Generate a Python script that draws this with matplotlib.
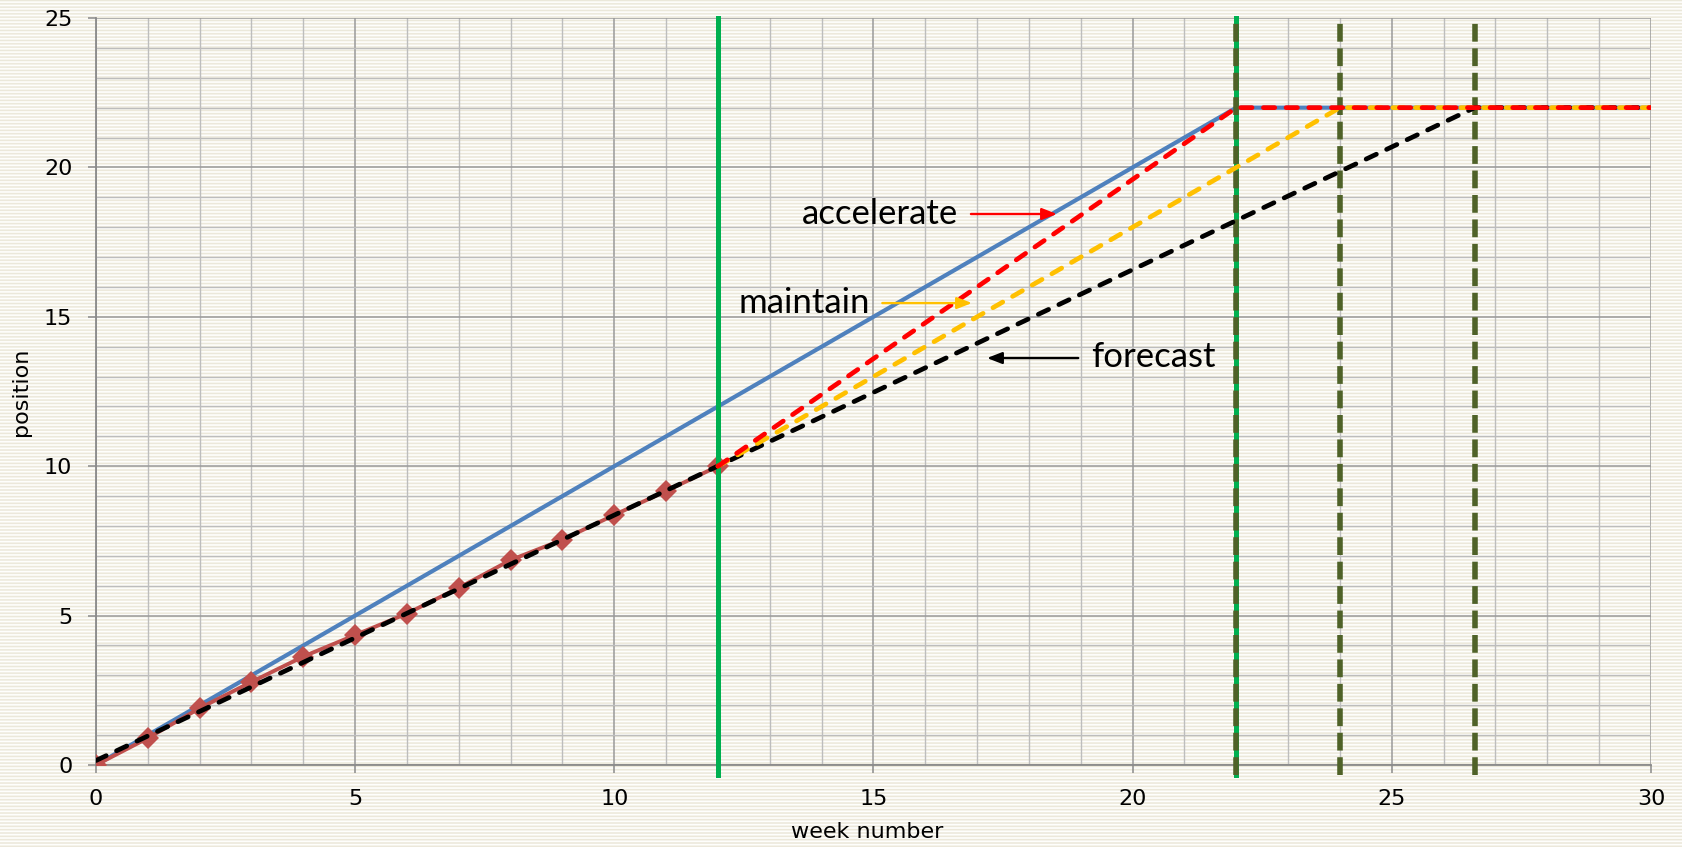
import numpy as np
import matplotlib
matplotlib.use("Agg")
import matplotlib.pyplot as plt
from matplotlib.ticker import MultipleLocator

# actual progress (weekly measurements)
actual_weeks = list(range(13))
actual_pos = [0, 0.9, 1.9, 2.78, 3.63, 4.35, 5.07, 5.93, 6.86, 7.54, 8.37, 9.17, 10.0]

# plan and scenarios
plan_x = [0, 22, 30]
plan_y = [0, 22, 22]
forecast_x = [0, 26.6, 30]
forecast_y = [0.15, 22, 22]
maintain_x = [12, 24, 30]
maintain_y = [10, 22, 22]
accel_x = [12, 22, 30]
accel_y = [10, 22, 22]

today = 12
finish_dates = [22, 24, 26.6]

W, H, DPI = 1682, 847, 100
fig = plt.figure(figsize=(W / DPI, H / DPI), dpi=DPI)

# striped paper background
rows = np.arange(H)
t = 0.5 + 0.5 * np.cos(2 * np.pi * rows / 3.33)
white = np.array([1.0, 1.0, 0.995])
cream = np.array([0.925, 0.91, 0.855])
bg = white[None, :] * (1 - t[:, None]) + cream[None, :] * t[:, None]
bg = np.repeat(bg[:, None, :], W, axis=1)
bgax = fig.add_axes([0, 0, 1, 1], zorder=-10)
bgax.imshow(bg, aspect="auto", interpolation="nearest")
bgax.set_axis_off()

ax = fig.add_axes([96 / W, 1 - 765 / H, 1555 / W, 747 / H])
ax.set_facecolor("none")

ax.set_xlim(0, 30)
ax.set_ylim(0, 25)
ax.xaxis.set_major_locator(MultipleLocator(5))
ax.xaxis.set_minor_locator(MultipleLocator(1))
ax.yaxis.set_major_locator(MultipleLocator(5))
ax.yaxis.set_minor_locator(MultipleLocator(1))
ax.grid(which="major", color="#9a9a9a", lw=1.1, zorder=1)
ax.grid(which="minor", color="#bdbdbd", lw=1.0, zorder=1)
ax.set_axisbelow(True)

for s in ["top", "right"]:
    ax.spines[s].set_visible(False)
for s in ["left", "bottom"]:
    ax.spines[s].set_color("#8a8a8a")
    ax.spines[s].set_linewidth(1.3)

ax.tick_params(which="major", length=6, width=1.1, color="#8a8a8a",
               labelsize=16, pad=11)
ax.tick_params(which="minor", length=0)

# plan
ax.plot(plan_x, plan_y, color="#4F81BD", lw=3, solid_capstyle="butt", zorder=3)
# actual
ax.plot(actual_weeks, actual_pos, color="#C0504D", lw=2.8, marker="D",
        markersize=11, markeredgewidth=0, zorder=4)
# milestone lines
ax.plot([today, today], [-0.33, 25], color="#00B050", lw=3.6, clip_on=False, zorder=5)
ax.plot([finish_dates[0]] * 2, [-0.33, 25], color="#00B050", lw=3.6, clip_on=False, zorder=5)
for fx in finish_dates:
    ax.plot([fx, fx], [-0.33, 25], color="#4F6228", lw=4, dashes=(3.2, 1.2),
            clip_on=False, zorder=5)

dash_kw = dict(lw=3.4, dashes=(2.4, 2.4), dash_capstyle="round")
ax.plot(forecast_x, forecast_y, color="black", zorder=6, **dash_kw)
ax.plot(maintain_x, maintain_y, color="#FFC000", zorder=7, **dash_kw)
ax.plot(accel_x, accel_y, color="#FF0000", zorder=8, **dash_kw)

# annotations
txt_kw = dict(fontsize=25, family=["Lato", "DejaVu Sans"], va="center", ha="left", zorder=9)
ax.text(13.61, 18.44, "accelerate", **txt_kw)
ax.text(12.39, 15.46, "maintain", **txt_kw)
ax.text(19.20, 13.64, "forecast", **txt_kw)

arr = dict(arrowstyle="-|>,head_length=0.9,head_width=0.35", lw=1.7, shrinkA=0, shrinkB=0)
ax.annotate("", xy=(18.54, 18.44), xytext=(16.88, 18.44),
            arrowprops=dict(color="#FF0000", **arr), zorder=9)
ax.annotate("", xy=(16.90, 15.46), xytext=(15.17, 15.46),
            arrowprops=dict(color="#FFC000", **arr), zorder=9)
ax.annotate("", xy=(17.19, 13.62), xytext=(18.95, 13.62),
            arrowprops=dict(color="black", **arr), zorder=9)

ax.set_xlabel("week number", fontsize=16)
ax.set_ylabel("position", fontsize=16)
ax.xaxis.set_label_coords(0.496, -0.076)
ax.yaxis.set_label_coords(-0.042, 0.5)

fig.savefig("out.png", dpi=DPI)
